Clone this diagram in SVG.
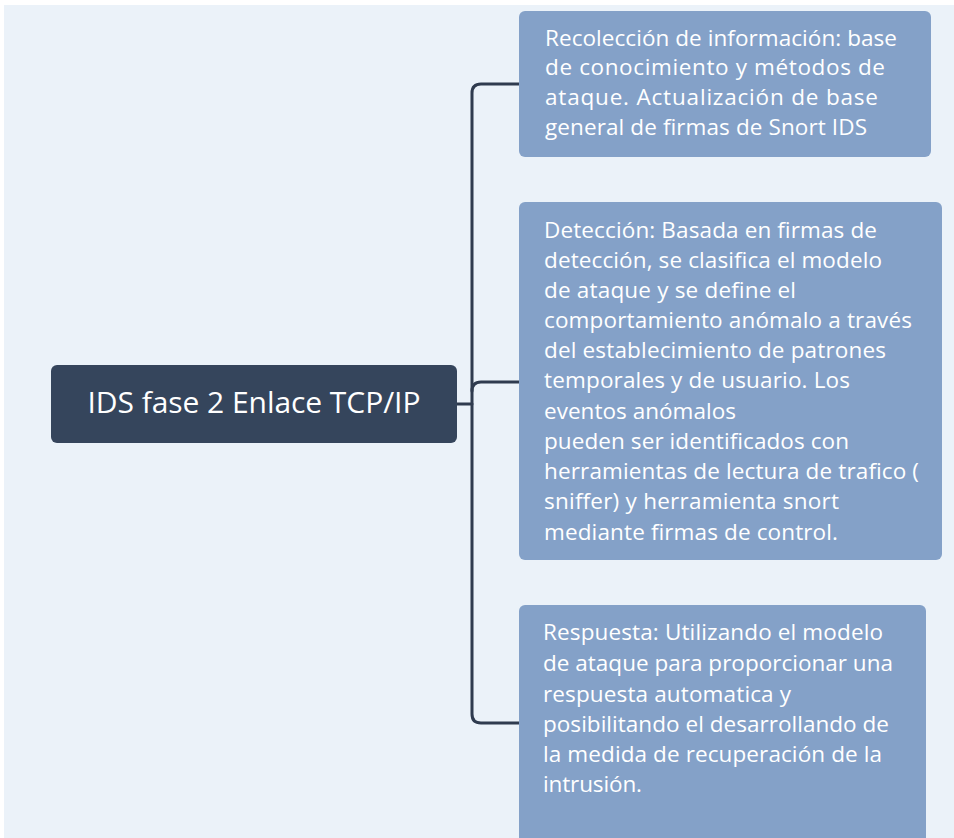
<svg xmlns="http://www.w3.org/2000/svg" width="954" height="838" viewBox="0 0 954 838">
<style>
.bg{fill:#ebf2f9}
.child{fill:#84a1c8}
.root{fill:#35455c}
.t{font-family:"Open Sans","Noto Sans",sans-serif;font-size:22.5px;fill:#ffffff}
.rt{font-family:"Open Sans","Noto Sans",sans-serif;font-size:30px;fill:#ffffff}
.con{fill:none;stroke:#2f3b4f;stroke-width:3;stroke-linecap:round}
</style>
<rect width="954" height="838" fill="#ffffff"/>
<rect class="bg" x="4" y="5" width="950" height="833"/>
<g id="connectors">
<path class="con" d="M457 404 H472"/>
<path class="con" d="M519 84 H481 Q472 84 472 93 V714 Q472 723 481 723 H519"/>
<path class="con" d="M472 391 Q472 382 481 382 H519"/>
</g>
<g id="root">
<rect class="root" x="51" y="365" width="406" height="78" rx="6"/>
<text class="rt" x="254" y="413" text-anchor="middle" textLength="333">IDS fase 2 Enlace TCP/IP</text>
</g>
<g id="n1">
<rect class="child" x="519" y="11" width="412" height="146" rx="6"/>
<text class="t">
<tspan x="545" y="46" textLength="352">Recolección de información: base</tspan>
<tspan x="545" y="75" textLength="340">de conocimiento y métodos de</tspan>
<tspan x="545" y="105" textLength="333">ataque. Actualización de base</tspan>
<tspan x="545" y="135" textLength="322">general de firmas de Snort IDS</tspan>
</text>
</g>
<g id="n2">
<rect class="child" x="519" y="202" width="423" height="358" rx="6"/>
<text class="t">
<tspan x="544" y="238" textLength="333">Detección: Basada en firmas de</tspan>
<tspan x="544" y="268" textLength="338">detección, se clasifica el modelo</tspan>
<tspan x="544" y="298" textLength="252">de ataque y se define el</tspan>
<tspan x="544" y="328" textLength="368">comportamiento anómalo a través</tspan>
<tspan x="544" y="358" textLength="342">del establecimiento de patrones</tspan>
<tspan x="544" y="388" textLength="306">temporales y de usuario. Los</tspan>
<tspan x="544" y="419" textLength="192">eventos anómalos</tspan>
<tspan x="544" y="449" textLength="305">pueden ser identificados con</tspan>
<tspan x="544" y="479" textLength="375">herramientas de lectura de trafico (</tspan>
<tspan x="544" y="509" textLength="295">sniffer) y herramienta snort</tspan>
<tspan x="544" y="540" textLength="294">mediante firmas de control.</tspan>
</text>
</g>
<g id="n3">
<rect class="child" x="519" y="605" width="407" height="250" rx="6"/>
<text class="t">
<tspan x="543" y="640" textLength="340">Respuesta: Utilizando el modelo</tspan>
<tspan x="543" y="671" textLength="350">de ataque para proporcionar una</tspan>
<tspan x="543" y="702" textLength="248">respuesta automatica y</tspan>
<tspan x="543" y="732" textLength="346">posibilitando el desarrollando de</tspan>
<tspan x="543" y="762" textLength="339">la medida de recuperación de la</tspan>
<tspan x="543" y="792" textLength="99">intrusión.</tspan>
</text>
</g>
</svg>
